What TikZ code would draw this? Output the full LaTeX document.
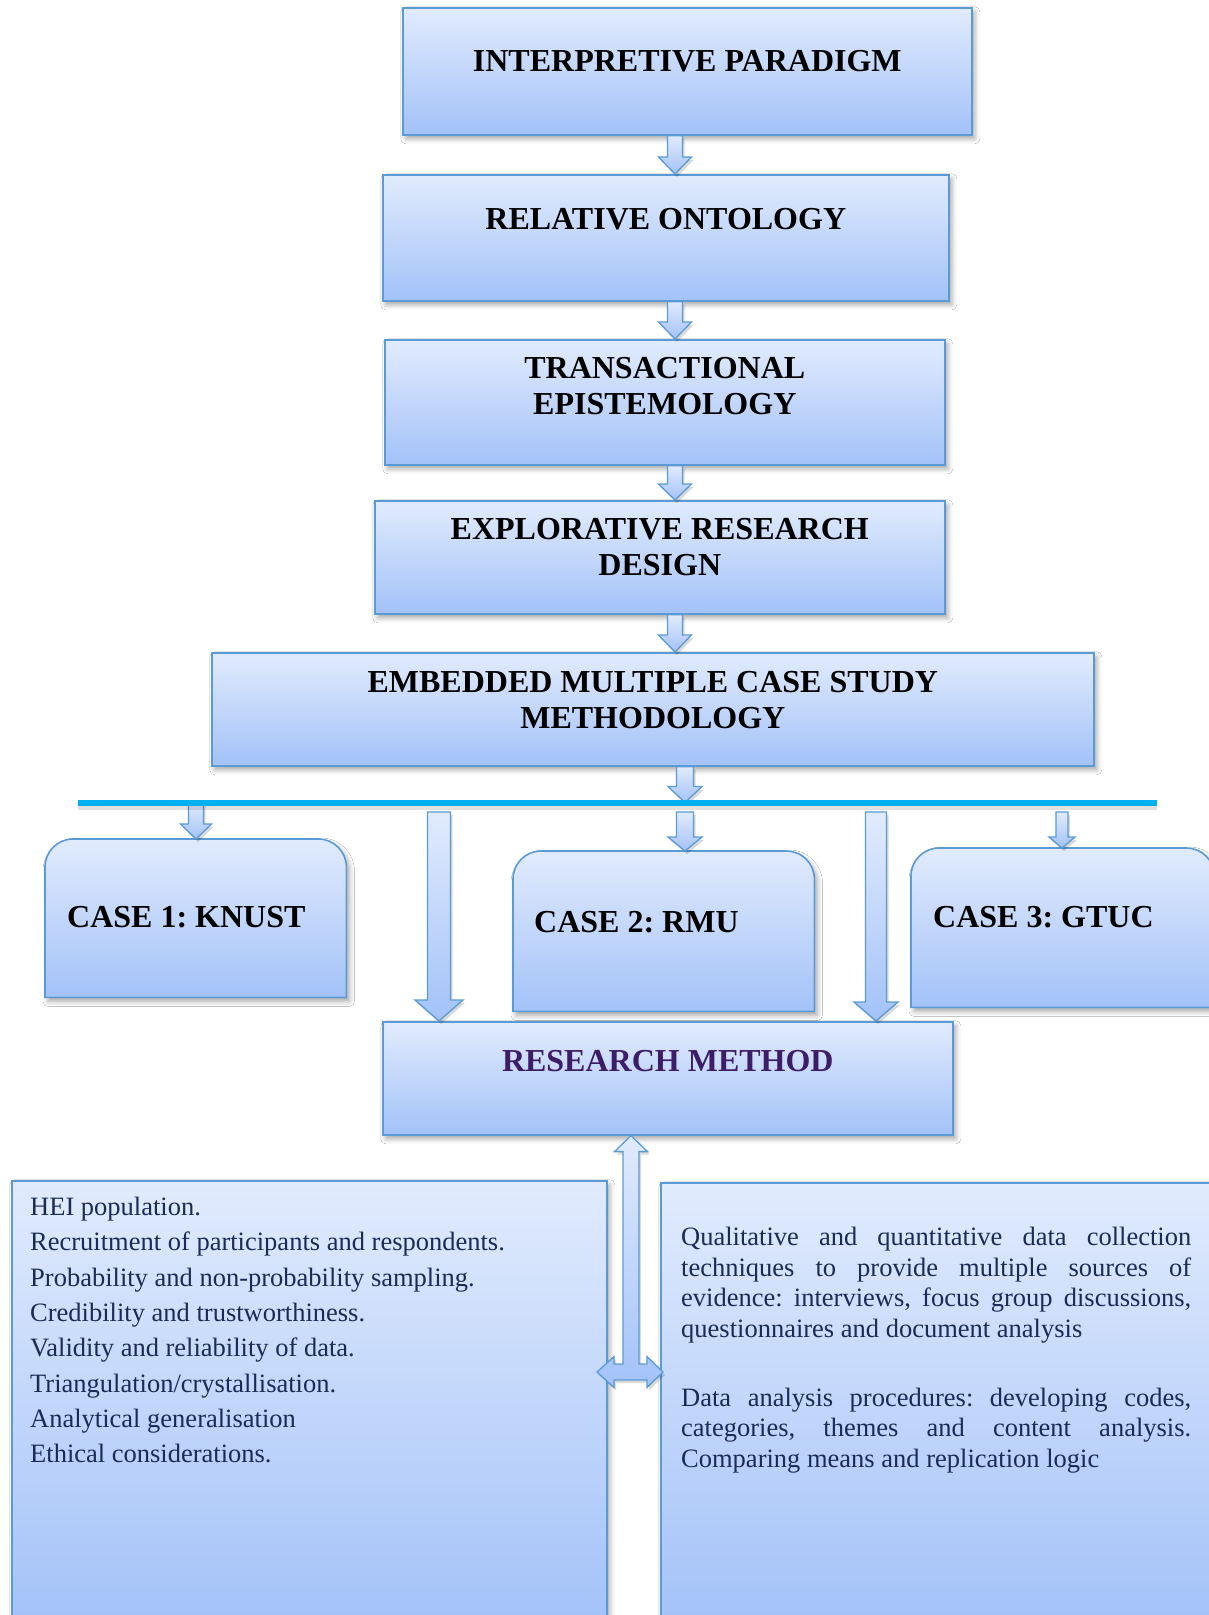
\documentclass[tikz,border=0pt]{standalone}
\usepackage{fontspec}
\setmainfont{Liberation Serif}
\usetikzlibrary{calc,shadows.blur}
\frenchspacing

\definecolor{boxtop}{HTML}{E1EBFD}
\definecolor{boxbot}{HTML}{A3C2F8}
\definecolor{boxline}{HTML}{5B9BD5}
\definecolor{busblue}{HTML}{00B0F0}
\definecolor{bodyblue}{HTML}{1B2B57}
\definecolor{rmpurple}{HTML}{3E1D68}

\newcommand{\titlefont}{\fontsize{32}{36}\selectfont\bfseries}
\newcommand{\bodyfont}{\fontsize{26.5}{35.3}\selectfont}
\newcommand{\sidefont}{\fontsize{26.5}{30.5}\selectfont}

% downward block arrow: x, start, tip, shaft half width, head half width, head length
\newcommand{\blockdown}[6]{%
  \draw[blockarrow] let \p1=(#2), \p2=(#3) in
    (#1pt-#4pt,\y1) -- (#1pt+#4pt,\y1) -- (#1pt+#4pt,\y2+#6pt) -- (#1pt+#5pt,\y2+#6pt)
    -- (#1pt,\y2) -- (#1pt-#5pt,\y2+#6pt) -- (#1pt-#4pt,\y2+#6pt) -- cycle;}

\begin{document}
\begin{tikzpicture}[x=1pt, y=-1pt,
  boxpaint/.style={draw=boxline, line width=1.6pt, top color=boxtop, bottom color=boxbot,
    blur shadow={shadow xshift=3pt, shadow yshift=-4pt, shadow blur radius=5pt, shadow opacity=35}},
  wordbox/.style={boxpaint, inner sep=0pt, anchor=north west},
  caseframe/.style={inner sep=0pt, anchor=north west},
  blockarrow/.style={draw=boxline, line width=1.3pt, top color=boxtop, bottom color=boxbot,
    preaction={fill=black, fill opacity=.15, transform canvas={xshift=2pt, yshift=-3pt}}},
  titletext/.style={font=\titlefont, align=center, inner sep=0pt},
  casetext/.style={font=\titlefont, anchor=west, inner sep=0pt},
  bodytext/.style={font=\bodyfont, text=bodyblue, align=left, inner sep=0pt, anchor=north west},
  busline/.style={draw=busblue, line width=6pt,
    preaction={draw=black, draw opacity=.12, line width=7pt, transform canvas={yshift=-4pt}}}]
  \fill[white] (0,0) rectangle (1209,1615);
  \useasboundingbox (0,0) rectangle (1209,1615);

  % top chain
  \node[wordbox, minimum width=569pt, minimum height=127pt] (ip) at (402,7) {};
  \node[wordbox, minimum width=566pt, minimum height=126pt] (ro) at (382,174) {};
  \node[wordbox, minimum width=560pt, minimum height=125pt] (te) at (384,339) {};
  \node[wordbox, minimum width=570pt, minimum height=113pt] (erd) at (374,500) {};
  \node[wordbox, minimum width=882pt, minimum height=113pt] (emb) at (211,652) {};

  \node[titletext] (ipt) at ($(ip.north)+(0,54)$) {INTERPRETIVE PARADIGM};
  \node[titletext] (rot) at ($(ro.north)+(0,45)$) {RELATIVE ONTOLOGY};
  \node[titletext] (tet) at ($(te.north)+(0,47)$) {TRANSACTIONAL\\EPISTEMOLOGY};
  \node[titletext] (erdt) at ($(erd.north)+(0,47)$) {EXPLORATIVE RESEARCH\\DESIGN};
  \node[titletext] (embt) at ($(emb.north)+(0,48)$) {EMBEDDED MULTIPLE CASE STUDY\\METHODOLOGY};

  % cases
  \node[caseframe, minimum width=301pt, minimum height=158pt] (k1) at (45,839) {};
  \node[caseframe, minimum width=301pt, minimum height=160pt] (k2) at (513,851) {};
  \node[caseframe, minimum width=303pt, minimum height=159pt] (k3) at (911,848) {};
  \foreach \k in {k1,k2,k3}
    \path[boxpaint] (\k.south west) [rounded corners=28pt] -- (\k.north west)
      -- (\k.north east) [sharp corners] -- (\k.south east) -- cycle;
  \node[casetext] (k1t) at ($(k1.north west)+(22,78.5)$) {CASE 1: KNUST};
  \node[casetext] (k2t) at ($(k2.north west)+(21,71)$) {CASE 2: RMU};
  \node[casetext] (k3t) at ($(k3.north west)+(22,69.5)$) {CASE 3: GTUC};

  % method and details
  \node[wordbox, minimum width=570pt, minimum height=113pt] (rm) at (382,1021) {};
  \node[titletext, text=rmpurple] (rmt) at ($(rm.north)+(0,40)$) {RESEARCH METHOD};

  \node[wordbox, minimum width=595pt, minimum height=445pt] (lb) at (11,1180) {};
  \node[wordbox, minimum width=554pt, minimum height=443pt] (rb) at (660,1182) {};

  \node[bodytext] (lbt) at ($(lb.north west)+(19,17)$) {HEI population.\\
    Recruitment of participants and respondents.\\
    Probability and non-probability sampling.\\
    Credibility and trustworthiness.\\
    Validity and reliability of data.\\
    Triangulation/crystallisation.\\
    Analytical generalisation\\
    Ethical considerations.};
  \node[bodytext, font=\sidefont, text width=510pt, align=justify] (rbt) at ($(rb.north west)+(21,45)$)
    {Qualitative and quantitative data collection\linebreak
    techniques to provide multiple sources of\linebreak
    evidence: interviews, focus group discussions,\linebreak
    questionnaires and document analysis\\[38.5pt]
    Data analysis procedures: developing codes,\linebreak
    categories, themes and content analysis.\linebreak
    Comparing means and replication logic};

  % connectors
  \coordinate (bl) at (78,802.5);
  \coordinate (br) at (1157,802.5);
  \coordinate (drop) at (0,812);

  \blockdown{675}{ip.south}{ro.north}{7.5}{16.5}{17}
  \blockdown{675}{ro.south}{te.north}{7.5}{16.5}{17}
  \blockdown{675}{te.south}{erd.north}{7.5}{16.5}{16}
  \blockdown{675}{erd.south}{emb.north}{7.5}{16.5}{17}
  \blockdown{685}{emb.south}{bl}{8.5}{17}{16}
  \blockdown{196}{bl}{k1.north}{7.5}{15.5}{15}
  \blockdown{439}{drop}{rm.north}{11.5}{24}{21}
  \blockdown{685}{drop}{k2.north}{8.5}{17}{14}
  \blockdown{876}{drop}{rm.north}{10.5}{22}{19}
  \blockdown{1062}{drop}{k3.north}{6}{13}{11}

  \draw[busline] (bl) -- (br);

  \coordinate (tj) at (631,1372);
  \draw[blockarrow] let \p1=(tj |- rm.south), \p2=(tj) in
    (\x1,\y1) -- (\x1+16.5pt,\y1-16pt) -- (\x1+8pt,\y1-16pt) -- (\x1+8pt,\y2+8pt)
    -- (\x2+16pt,\y2+8pt) -- (\x2+16pt,\y2+15.5pt) -- (\x2+32pt,\y2) -- (\x2+16pt,\y2-15.5pt)
    -- (\x2+16pt,\y2-8pt) -- (\x2-17pt,\y2-8pt) -- (\x2-17pt,\y2-15.5pt) -- (\x2-34pt,\y2)
    -- (\x2-17pt,\y2+15.5pt) -- (\x2-17pt,\y2+8pt) -- (\x1-8pt,\y2+8pt) -- (\x1-8pt,\y1-16pt)
    -- (\x1-16.5pt,\y1-16pt) -- cycle;
\end{tikzpicture}
\end{document}
